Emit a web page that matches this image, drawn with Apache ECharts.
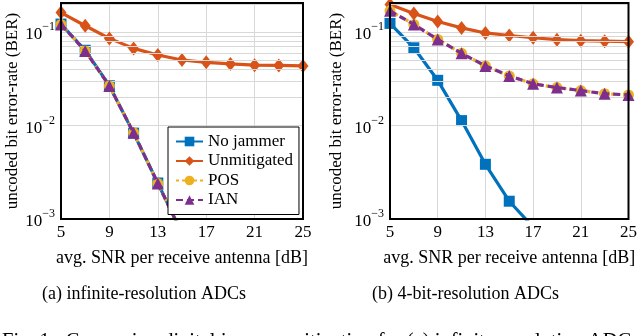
<!DOCTYPE html>
<html>
<head>
<meta charset="utf-8">
<script src="https://cdn.jsdelivr.net/npm/echarts@6/dist/echarts.min.js"></script>
<style>html,body{margin:0;padding:0;background:#fff;}#c{width:640px;height:336px;}</style>
</head>
<body>
<div id="c"></div>
<script>
// ---- data ----
const snr = [5, 7, 9, 11, 13, 15, 17, 19, 21, 23, 25];
// (a) infinite-resolution ADCs
const aNoJammer   = [0.122, 0.064, 0.0267, 0.0083, 0.00243, 0.0007];
const aUnmitigated= [0.162, 0.117, 0.0857, 0.067, 0.0569, 0.0503, 0.0475, 0.0457, 0.0443, 0.044, 0.0435];
const aPOS        = [0.121, 0.063, 0.0265, 0.0084, 0.00240, 0.0007];
const aIAN        = [0.121, 0.063, 0.0265, 0.0084, 0.00240, 0.0007];
// (b) 4-bit-resolution ADCs
const bNoJammer   = [0.124, 0.068, 0.0305, 0.0113, 0.00385, 0.00155, 0.00082];
const bUnmitigated= [0.197, 0.158, 0.130, 0.111, 0.098, 0.092, 0.087, 0.083, 0.081, 0.080, 0.079];
const bPOS        = [0.169, 0.121, 0.0835, 0.0593, 0.0435, 0.034, 0.028, 0.0255, 0.0237, 0.0219, 0.0213];
const bIAN        = [0.169, 0.121, 0.0835, 0.0593, 0.0435, 0.034, 0.028, 0.0255, 0.0237, 0.0219, 0.0213];
const seriesNames = ['No jammer', 'Unmitigated', 'POS', 'IAN'];
const xTicks = [5, 9, 13, 17, 21, 25];
const minorGrid = [0.002,0.003,0.004,0.005,0.006,0.007,0.008,0.009,
                   0.02,0.03,0.04,0.05,0.06,0.07,0.08,0.09,0.2];
const xLabel = 'avg. SNR per receive antenna [dB]';
const yLabel = 'uncoded bit error-rate (BER)';
const captionA = '(a) infinite-resolution ADCs';
const captionB = '(b) 4-bit-resolution ADCs';
const figCaption = 'Fig. 1:  Comparing digital jammer mitigation for (a) infinite-resolution ADCs';

// ---- styling ----
const FONT = 'Liberation Serif';
const colors = ['#0072BD', '#D95319', '#EDB120', '#7E2F8E'];
const symbols = ['rect', 'diamond', 'circle', 'triangle'];
const symSizes = [11, [11, 14], 11, 12];
const dashes = ['solid', 'solid', [3, 3], [7, 4]];

function pairs(vals) { return vals.map((v, i) => [snr[i], v]); }

const chart = echarts.init(document.getElementById('c'), null, {renderer: 'canvas'});

const grids = [
  {left: 61, top: 3, width: 242, height: 216, show: true, borderColor: '#000', borderWidth: 2, backgroundColor: 'transparent', z: 10},
  {left: 390, top: 3, width: 242, height: 216, show: true, borderColor: '#000', borderWidth: 2, backgroundColor: 'transparent', z: 10}
];

function xAxisFor(i) {
  return {
    gridIndex: i, type: 'value', min: 5, max: 25, interval: 4,
    axisLine: {show: false}, axisTick: {show: false},
    splitLine: {show: true, lineStyle: {color: '#d8d8d8', width: 1}},
    axisLabel: {color: '#000', fontFamily: FONT, fontSize: 17, margin: 5,
                showMinLabel: true, showMaxLabel: true},
    name: xLabel, nameLocation: 'middle', nameGap: 30,
    nameTextStyle: {color: '#000', fontFamily: FONT, fontSize: 18}
  };
}
function yAxisFor(i, gap) {
  return {
    gridIndex: i, type: 'log', logBase: 10, min: 0.001, max: 0.205,
    axisLine: {show: false}, axisTick: {show: false},
    splitLine: {show: true, lineStyle: {color: '#d8d8d8', width: 1}},
    axisLabel: {
      color: '#000', fontFamily: FONT, margin: 6,
      formatter: function (v) {
        const e = Math.round(Math.log10(v));
        if (Math.abs(Math.log10(v) - e) > 1e-6) return '';
        return '{b|10}{s|\u2212' + (-e) + '}';
      },
      rich: {
        b: {fontFamily: FONT, fontSize: 17, color: '#000', lineHeight: 22, verticalAlign: 'bottom'},
        s: {fontFamily: FONT, fontSize: 12, color: '#000', lineHeight: 22, verticalAlign: 'top'}
      }
    },
    name: yLabel, nameLocation: 'middle', nameGap: gap, nameRotate: 90,
    nameTextStyle: {color: '#000', fontFamily: FONT, fontSize: 17}
  };
}

const seriesList = [];
const dataSets = [[aNoJammer, aUnmitigated, aPOS, aIAN], [bNoJammer, bUnmitigated, bPOS, bIAN]];
for (let g = 0; g < 2; g++) {
  // minor grid lines at 2..9 x 10^k
  seriesList.push({
    type: 'line', xAxisIndex: g, yAxisIndex: g, data: [], silent: true, z: 1,
    markLine: {
      silent: true, symbol: ['none', 'none'], animation: false,
      label: {show: false},
      lineStyle: {color: '#d8d8d8', width: 1, type: 'solid'},
      emphasis: {disabled: true},
      data: minorGrid.map(v => ({yAxis: v}))
    }
  });
  for (let s = 0; s < 4; s++) {
    seriesList.push({
      name: seriesNames[s], type: 'line', xAxisIndex: g, yAxisIndex: g,
      data: pairs(dataSets[g][s]), clip: true, z: 3 + s,
      symbol: symbols[s], symbolSize: symSizes[s], showAllSymbol: true,
      itemStyle: {color: colors[s]},
      lineStyle: {color: colors[s], width: 3.2, type: dashes[s]},
      animation: false
    });
  }
}

chart.setOption({
  animation: false,
  backgroundColor: '#fff',
  grid: grids,
  xAxis: [xAxisFor(0), xAxisFor(1)],
  yAxis: [yAxisFor(0, 39), yAxisFor(1, 45)],
  legend: {
    data: seriesNames, orient: 'vertical', left: 168, top: 127,
    backgroundColor: '#fff', borderColor: '#000', borderWidth: 1, borderRadius: 0,
    padding: [6, 6, 6, 7], itemWidth: 27, itemHeight: 12, itemGap: 2.5,
    textStyle: {color: '#000', fontFamily: FONT, fontSize: 17},
    z: 20
  },
  graphic: [
    {type: 'text', left: 42, top: 285, style: {text: captionA, font: '18px "Liberation Serif"', fill: '#000'}},
    {type: 'text', left: 372, top: 285, style: {text: captionB, font: '18px "Liberation Serif"', fill: '#000'}},
    {type: 'text', left: 2, top: 331, style: {text: figCaption, font: '20.5px "Liberation Serif"', fill: '#000'}}
  ],
  series: seriesList
});
</script>
</body>
</html>
